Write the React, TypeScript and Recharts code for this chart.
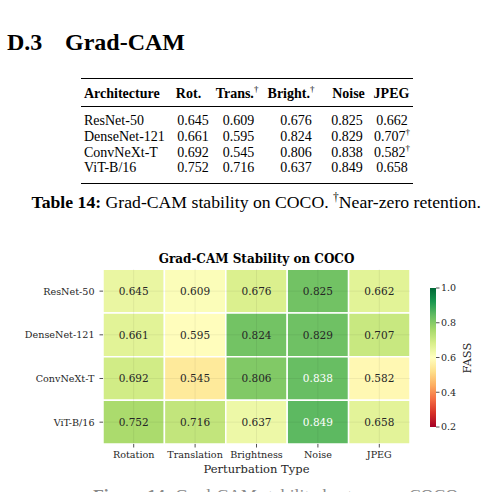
import React from "react";
import {
  ScatterChart,
  Scatter,
  XAxis,
  YAxis,
  ReferenceArea,
  ReferenceLine,
  Label,
} from "recharts";

// Grad-CAM FASS scores on COCO (rows = architecture, cols = perturbation)
const ARCHS = ["ResNet-50", "DenseNet-121", "ConvNeXt-T", "ViT-B/16"];
const PERTURBS = ["Rotation", "Translation", "Brightness", "Noise", "JPEG"];
const TABLE_HEADS = ["Rot.", "Trans.", "Bright.", "Noise", "JPEG"];
const HEAD_DAGGER = [false, true, true, false, false];

const RESNET50 = [0.645, 0.609, 0.676, 0.825, 0.662];
const DENSENET121 = [0.661, 0.595, 0.824, 0.829, 0.707];
const CONVNEXT_T = [0.692, 0.545, 0.806, 0.838, 0.582];
const VIT_B16 = [0.752, 0.716, 0.637, 0.849, 0.658];
const SCORES = [RESNET50, DENSENET121, CONVNEXT_T, VIT_B16];

// near-zero retention marks in the table (row, col)
const DAGGERS = [
  [1, 4],
  [2, 4],
];

const CBAR_TICKS = [0.2, 0.4, 0.6, 0.8, 1.0];
const VMIN = 0.2;
const VMAX = 1.0;

// matplotlib RdYlGn
const RDYLGN = [
  "#a50026", "#d73027", "#f46d43", "#fdae61", "#fee08b", "#ffffbf",
  "#d9ef8b", "#a6d96a", "#66bd63", "#1a9850", "#006837",
];

const hex = (h: string) => [1, 3, 5].map((i) => parseInt(h.slice(i, i + 2), 16));

function cmap(v: number): number[] {
  const t = Math.min(1, Math.max(0, (v - VMIN) / (VMAX - VMIN))) * (RDYLGN.length - 1);
  const i = Math.min(RDYLGN.length - 2, Math.floor(t));
  const f = t - i;
  const a = hex(RDYLGN[i]);
  const b = hex(RDYLGN[i + 1]);
  return a.map((c, k) => Math.round(c + (b[k] - c) * f));
}

const rgb = (c: number[]) => `rgb(${c[0]},${c[1]},${c[2]})`;

function luminance(c: number[]) {
  const lin = c.map((x) => {
    const s = x / 255;
    return s <= 0.03928 ? s / 12.92 : Math.pow((s + 0.055) / 1.055, 2.4);
  });
  return 0.2126 * lin[0] + 0.7152 * lin[1] + 0.0722 * lin[2];
}

const cells = SCORES.flatMap((row, r) =>
  row.map((v, c) => ({ x: c + 0.5, y: r + 0.5, r, c, v }))
);
const cbarPoints = CBAR_TICKS.map((t) => ({ x: 0.5, y: t }));

const SERIF = "'Liberation Serif', 'Times New Roman', serif";
const MPL = "'DejaVu Serif', serif";
const INK = "#262626";

// table column centres
const HEAD_X = [188.5, 237, 291, 348.5, 391.5];
const VAL_X = [193, 238.5, 296, 347, 392];
const ROW_Y = [121, 136.5, 152.5, 168];

function CellText(props: any) {
  const { cx, cy, payload } = props;
  const dark = luminance(cmap(payload.v)) > 0.408;
  return (
    <text
      x={cx}
      y={cy}
      textAnchor="middle"
      dominantBaseline="central"
      fontFamily={MPL}
      fontSize={10.5}
      fill={dark ? INK : "#ffffff"}
    >
      {payload.v.toFixed(3)}
    </text>
  );
}

const abs = (x: number, y: number, extra: React.CSSProperties = {}): React.CSSProperties => ({
  position: "absolute",
  left: x,
  top: y,
  lineHeight: 1,
  whiteSpace: "nowrap",
  ...extra,
});

function Table() {
  const dag = (r: number, c: number) => DAGGERS.some(([a, b]) => a === r && b === c);
  return (
    <div style={{ fontFamily: SERIF, fontSize: 14, color: "#000" }}>
      <div style={abs(81, 77.8, { width: 332, height: 1.3, background: "#000" })} />
      <div style={abs(81, 106.3, { width: 332, height: 0.7, background: "#000" })} />
      <div style={abs(81, 182.8, { width: 332, height: 1.3, background: "#000" })} />

      <div style={abs(84, 94.3, { transform: "translateY(-50%)", fontWeight: 700 })}>
        Architecture
      </div>
      {TABLE_HEADS.map((h, i) => (
        <div key={h} style={abs(HEAD_X[i], 94.3, { transform: "translate(-50%,-50%)", fontWeight: 700 })}>
          {h}
          {HEAD_DAGGER[i] && <sup style={{ fontSize: 9, fontWeight: 400, lineHeight: 0 }}>†</sup>}
        </div>
      ))}

      {ARCHS.map((a, r) => (
        <React.Fragment key={a}>
          <div style={abs(84, ROW_Y[r], { transform: "translateY(-50%)" })}>{a}</div>
          {SCORES[r].map((v, c) => (
            <div key={c} style={abs(VAL_X[c], ROW_Y[r], { transform: "translate(-50%,-50%)" })}>
              {v.toFixed(3)}
              {dag(r, c) && <sup style={{ fontSize: 9, lineHeight: 0 }}>†</sup>}
            </div>
          ))}
        </React.Fragment>
      ))}

      <div style={abs(31.5, 203, { transform: "translateY(-50%)", fontSize: 17.7 })}>
        <b>Table 14:</b> Grad-CAM stability on COCO. <sup style={{ fontSize: 11.5, lineHeight: 0 }}>†</sup>
        Near-zero retention.
      </div>
    </div>
  );
}

export default function App() {
  return (
    <div
      style={{
        position: "fixed",
        left: 0,
        top: 0,
        width: 483,
        height: 492,
        overflow: "hidden",
        background: "#fff",
      }}
    >
      <div style={abs(7, 41.7, { transform: "translateY(-50%)", fontFamily: SERIF, fontWeight: 700, fontSize: 24 })}>
        D.3
      </div>
      <div style={abs(65, 41.7, { transform: "translateY(-50%)", fontFamily: SERIF, fontWeight: 700, fontSize: 24 })}>
        Grad-CAM
      </div>

      <Table />

      <div
        style={abs(256.5, 259, {
          transform: "translate(-50%,-50%)",
          fontFamily: MPL,
          fontWeight: 700,
          fontSize: 12,
          color: "#000",
        })}
      >
        Grad-CAM Stability on COCO
      </div>

      <div style={{ position: "absolute", left: 0, top: 240 }}>
        <ScatterChart width={483} height={252} margin={{ top: 29.3, right: 73, bottom: 18, left: 0 }}>
          <XAxis
            type="number"
            dataKey="x"
            domain={[0, 5]}
            ticks={[0.5, 1.5, 2.5, 3.5, 4.5]}
            tickFormatter={(v: number) => PERTURBS[Math.floor(v)]}
            axisLine={false}
            tickLine={{ stroke: INK, strokeWidth: 0.8 }}
            tickSize={3.5}
            tickMargin={4}
            height={30}
            interval={0}
            tick={{ fontFamily: MPL, fontSize: 9.6, fill: INK }}
          >
            <Label
              value="Perturbation Type"
              position="insideBottom"
              offset={1}
              style={{ fontFamily: MPL, fontSize: 11.5, fill: INK }}
            />
          </XAxis>
          <YAxis
            type="number"
            dataKey="y"
            domain={[0, 4]}
            reversed
            ticks={[0.5, 1.5, 2.5, 3.5]}
            tickFormatter={(v: number) => ARCHS[Math.floor(v)]}
            axisLine={false}
            tickLine={{ stroke: INK, strokeWidth: 0.8 }}
            tickSize={3.5}
            tickMargin={5}
            width={103}
            interval={0}
            tick={{ fontFamily: MPL, fontSize: 9.6, fill: INK }}
          />
          {cells.map((d) => (
            <ReferenceArea
              key={`${d.r}-${d.c}`}
              x1={d.c}
              x2={d.c + 1}
              y1={d.r}
              y2={d.r + 1}
              fill={rgb(cmap(d.v))}
              fillOpacity={1}
              stroke="#ffffff"
              strokeWidth={1.5}
              ifOverflow="visible"
            />
          ))}
          {[0.5, 1.5, 2.5, 3.5, 4.5].map((x) => (
            <ReferenceLine key={`gx${x}`} x={x} stroke="#000" strokeOpacity={0.08} strokeWidth={0.8} />
          ))}
          {[0.5, 1.5, 2.5, 3.5].map((y) => (
            <ReferenceLine key={`gy${y}`} y={y} stroke="#000" strokeOpacity={0.08} strokeWidth={0.8} />
          ))}
          <Scatter data={cells} shape={CellText} isAnimationActive={false} />
        </ScatterChart>
      </div>

      <div style={{ position: "absolute", left: 420, top: 270 }}>
        <ScatterChart width={66} height={167} margin={{ top: 18, right: 0, bottom: 10, left: 10 }}>
          <defs>
            <linearGradient id="fassGrad" x1="0" y1="1" x2="0" y2="0">
              {RDYLGN.map((c, i) => (
                <stop key={c} offset={i / (RDYLGN.length - 1)} stopColor={c} />
              ))}
            </linearGradient>
          </defs>
          <XAxis type="number" dataKey="x" domain={[0, 1]} hide />
          <YAxis
            type="number"
            dataKey="y"
            orientation="right"
            domain={[VMIN, VMAX]}
            ticks={CBAR_TICKS}
            tickFormatter={(v: number) => v.toFixed(1)}
            axisLine={false}
            tickLine={{ stroke: INK, strokeWidth: 0.8 }}
            tickSize={3.5}
            tickMargin={1.5}
            width={50}
            interval={0}
            tick={{ fontFamily: MPL, fontSize: 9.5, fill: INK }}
          />
          <ReferenceArea x1={0} x2={1} y1={VMIN} y2={VMAX} fill="url(#fassGrad)" fillOpacity={1} ifOverflow="visible" />
          <Scatter data={cbarPoints} shape={() => <g />} isAnimationActive={false} />
        </ScatterChart>
      </div>

      <div
        style={abs(468, 358, {
          transform: "translate(-50%,-50%) rotate(-90deg)",
          fontFamily: MPL,
          fontSize: 11.5,
          color: INK,
        })}
      >
        FASS
      </div>

      <div style={abs(93, 486.8, { fontFamily: SERIF, fontSize: 17.7, color: "#8a8a8a" })}>
        <b>Figure 14:</b> Grad-CAM stability heatmap on COCO.
      </div>
    </div>
  );
}
